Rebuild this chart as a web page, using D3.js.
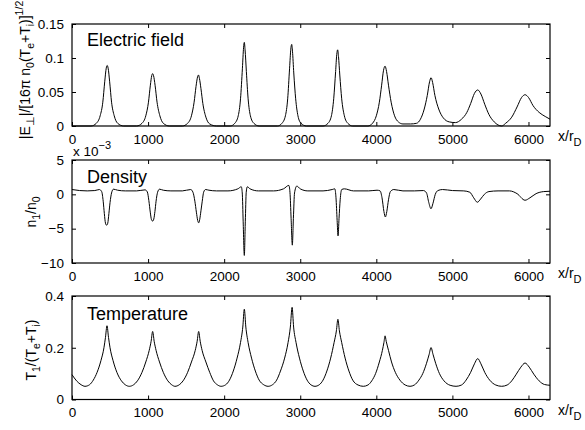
<!DOCTYPE html>
<html><head><meta charset="utf-8">
<script src="https://cdn.jsdelivr.net/npm/d3@7"></script>
<style>
body{margin:0;background:#fff;}
text{font-family:"Liberation Sans",Arial,Helvetica,sans-serif;fill:#000;}
</style></head>
<body><svg id="c" width="585" height="430"></svg>
<script>
// ---------- DATA ----------
const xTicks = [0,1000,2000,3000,4000,5000,6000];
const xMax = 6283;

// Electric field |E_perp|/[16 pi n0 (Te+Ti)]^1/2
const eX = [0,250,320,370,405,430,450,462,475,495,520,555,600,680,
 850,920,970,1005,1030,1048,1060,1072,1092,1118,1155,1200,1280,
 1450,1520,1570,1605,1630,1650,1662,1675,1695,1720,1760,1810,1900,
 2080,2140,2185,2215,2240,2255,2265,2275,2292,2315,2345,2390,2460,
 2700,2760,2805,2835,2860,2876,2888,2898,2915,2940,2970,3010,3080,
 3300,3365,3410,3440,3465,3480,3492,3503,3520,3545,3580,3625,3690,
 3890,3950,4000,4040,4070,4095,4115,4135,4160,4195,4240,4290,4350,4450,4530,
 4580,4630,4670,4700,4720,4740,4770,4820,4880,4960,5040,
 5120,5190,5240,5290,5333,5375,5425,5480,5550,5648,
 5700,5780,5850,5910,5955,6000,6060,6140,6220,6283];
const eY = [0,0,0.004,0.015,0.035,0.065,0.085,0.089,0.085,0.065,0.035,0.015,0.004,0,
 0,0.004,0.015,0.035,0.06,0.074,0.077,0.074,0.06,0.035,0.015,0.004,0,
 0,0.004,0.015,0.035,0.058,0.072,0.075,0.07,0.055,0.033,0.013,0.003,0,
 0,0.004,0.015,0.04,0.085,0.115,0.123,0.112,0.08,0.04,0.015,0.004,0,
 0,0.004,0.015,0.04,0.085,0.113,0.12,0.11,0.078,0.04,0.015,0.004,0,
 0,0.004,0.015,0.04,0.08,0.105,0.112,0.102,0.075,0.04,0.015,0.004,0,
 0,0.004,0.015,0.035,0.06,0.082,0.088,0.08,0.06,0.035,0.015,0.006,0.003,0.003,0.004,
 0.01,0.025,0.045,0.065,0.071,0.064,0.045,0.025,0.012,0.006,0.005,
 0.01,0.02,0.033,0.048,0.053,0.047,0.032,0.017,0.006,0,
 0.004,0.013,0.028,0.042,0.046,0.042,0.03,0.02,0.014,0.01];

// Density n1/n0 (x 10^-3)
const nX = [0,100,200,300,360,390,410,425,440,455,470,485,500,520,545,600,700,
 850,960,990,1010,1030,1045,1060,1075,1090,1105,1125,1150,1200,1300,
 1450,1560,1590,1615,1635,1652,1665,1678,1695,1712,1730,1755,1800,1900,
 2050,2180,2225,2238,2250,2265,2278,2290,2305,2340,2450,
 2650,2780,2850,2865,2880,2896,2910,2925,2955,3000,3100,
 3300,3420,3455,3470,3485,3497,3510,3525,3545,3580,3700,
 3900,4010,4050,4075,4100,4119,4138,4160,4185,4230,4350,
 4500,4620,4660,4690,4719,4745,4775,4810,4870,5000,
 5150,5230,5280,5328,5370,5420,5480,5600,
 5750,5850,5955,6020,6100,6200,6283];
const nY = [0.7,0.55,0.5,0.55,0.7,0.4,-1,-2.8,-4.2,-4.5,-4.2,-2.8,-1.2,0.2,0.75,0.6,0.5,
 0.5,0.65,0.35,-0.9,-2.7,-3.7,-3.9,-3.6,-2.5,-1.0,0.3,0.75,0.6,0.5,
 0.5,0.7,0.3,-1,-2.6,-3.8,-4.15,-3.7,-2.4,-1,0.3,0.7,0.6,0.5,
 0.5,0.8,1.1,0.2,-4,-8.9,-4,0.3,1.1,0.8,0.5,
 0.5,0.8,1.3,0.3,-3.5,-7.4,-3.5,0.2,1.2,0.8,0.5,
 0.5,0.7,0.8,-0.5,-3.8,-6.05,-3.5,-0.8,0.7,0.8,0.5,
 0.5,0.6,0.5,-0.5,-2.5,-3.3,-2.5,-0.8,0.4,0.7,0.5,
 0.5,0.55,0.2,-1.2,-2.1,-1.3,0,0.55,0.7,0.55,
 0.5,0.3,-0.5,-1.15,-0.7,0,0.4,0.5,
 0.5,0.1,-0.86,-0.5,0.1,0.4,0.45];

// Temperature T1/(Te+Ti)
const tX = [0,60,120,171,230,280,330,380,420,440,460,480,500,540,590,650,700,753,
 810,860,920,970,1015,1040,1060,1080,1105,1150,1200,1260,1310,1354,
 1410,1460,1520,1570,1620,1645,1665,1685,1710,1760,1810,1860,1910,1960,
 2020,2070,2120,2170,2215,2245,2265,2285,2315,2360,2410,2460,2520,2578,
 2635,2690,2740,2795,2840,2870,2893,2913,2945,2990,3040,3090,3140,3194,
 3250,3300,3350,3400,3445,3475,3495,3515,3545,3590,3640,3690,3760,3829,
 3890,3940,3990,4040,4080,4100,4115,4130,4160,4200,4250,4310,4380,4443,
 4500,4560,4610,4660,4695,4719,4745,4780,4830,4890,4970,5048,
 5120,5180,5240,5290,5333,5375,5425,5490,5570,5648,
 5720,5780,5840,5900,5955,6010,6070,6140,6210,6283];
const tY = [0.096,0.072,0.057,0.051,0.057,0.075,0.105,0.15,0.2,0.24,0.285,0.24,0.2,0.15,0.105,0.072,0.057,0.051,
 0.057,0.072,0.105,0.145,0.19,0.225,0.263,0.225,0.19,0.145,0.105,0.072,0.057,0.051,
 0.057,0.072,0.105,0.145,0.19,0.225,0.263,0.225,0.19,0.145,0.105,0.072,0.057,0.051,
 0.057,0.075,0.11,0.16,0.22,0.28,0.349,0.28,0.22,0.16,0.11,0.075,0.057,0.051,
 0.057,0.075,0.11,0.16,0.22,0.28,0.356,0.28,0.22,0.16,0.11,0.075,0.057,0.051,
 0.057,0.075,0.11,0.16,0.22,0.265,0.31,0.265,0.22,0.16,0.11,0.075,0.056,0.051,
 0.056,0.072,0.1,0.145,0.19,0.22,0.246,0.225,0.19,0.145,0.105,0.075,0.056,0.051,
 0.056,0.075,0.1,0.14,0.175,0.201,0.175,0.14,0.1,0.072,0.055,0.051,
 0.056,0.075,0.105,0.138,0.158,0.138,0.105,0.075,0.056,0.051,
 0.056,0.072,0.098,0.125,0.141,0.125,0.098,0.072,0.058,0.055];

const eTicks = [0,0.05,0.1,0.15];
const nTicks = [-10,-5,0,5];
const tTicks = [0,0.2,0.4];
const titles = ["Electric field","Density","Temperature"];

// ---------- DRAW ----------
const svg = d3.select("#c");
const L = 72, R = 550;
const x = d3.scaleLinear().domain([0,xMax]).range([L,R]);

const panels = [
  {xs:eX, ys:eY, dom:[0,0.15], top:24, bot:126, ticks:eTicks, fmt:d=>d===0?"0":String(d), title:titles[0], ty:46},
  {xs:nX, ys:nY, dom:[-10,5], top:160, bot:263, ticks:nTicks, fmt:d=>String(d).replace("-","\u2212"), title:titles[1], ty:183},
  {xs:tX, ys:tY, dom:[0,0.4], top:296, bot:399.5, ticks:tTicks, fmt:d=>d===0?"0":String(d), title:titles[2], ty:320}
];

panels.forEach((p,i)=>{
  const y = d3.scaleLinear().domain(p.dom).range([p.bot,p.top]);
  const g = svg.append("g");
  const data = p.xs.map((v,k)=>[v,p.ys[k]]);
  g.append("path").datum(data)
    .attr("fill","none").attr("stroke","#000").attr("stroke-width",1)
    .attr("d", d3.line().x(d=>x(d[0])).y(d=>y(d[1])).curve(d3.curveMonotoneX));
  const fs = "13.5px";
  const ax = g.append("g").attr("transform",`translate(0,${p.bot})`)
    .call(d3.axisBottom(x).tickValues(xTicks).tickSizeInner(-4).tickSizeOuter(0).tickPadding(8).tickFormat(d3.format("d")));
  ax.selectAll("text").style("font-size",fs);
  const axT = g.append("g").attr("transform",`translate(0,${p.top})`)
    .call(d3.axisTop(x).tickValues(xTicks).tickSizeInner(-4).tickSizeOuter(0).tickFormat(""));
  const ay = g.append("g").attr("transform",`translate(${L},0)`)
    .call(d3.axisLeft(y).tickValues(p.ticks).tickSizeInner(-4).tickSizeOuter(0).tickPadding(8).tickFormat(p.fmt));
  ay.selectAll("text").style("font-size",fs);
  const ayR = g.append("g").attr("transform",`translate(${R},0)`)
    .call(d3.axisRight(y).tickValues(p.ticks).tickSizeInner(-4).tickSizeOuter(0).tickFormat(""));
  [ax,axT,ay,ayR].forEach(a=>{a.select(".domain").remove(); a.selectAll("line").attr("stroke","#000");});
  g.append("rect").attr("x",L).attr("y",p.top).attr("width",R-L).attr("height",p.bot-p.top)
    .attr("fill","none").attr("stroke","#000").attr("stroke-width",1.2);
  g.append("text").attr("x",87).attr("y",p.ty).style("font-size","18px").text(p.title);
  const xl = g.append("text").attr("x",558).attr("y",p.bot+15).style("font-size","14px");
  xl.append("tspan").text("x/r");
  xl.append("tspan").attr("dy",5).style("font-size","11px").text("D");
});

// x 10^-3 multiplier
const m = svg.append("text").attr("x",73).attr("y",156).style("font-size","13.5px");
m.append("tspan").text("x 10");
m.append("tspan").attr("dy",-7).style("font-size","11px").text("\u22123");

// y labels
function ylabel(cx, cy, parts){
  const t = svg.append("text").attr("transform",`translate(${cx},${cy}) rotate(-90)`)
    .attr("text-anchor","middle").style("font-size","14px");
  let prev = 0;
  parts.forEach(([s,shift])=>{
    const ts = t.append("tspan").text(s).attr("dy", shift-prev);
    if(shift!==0) ts.style("font-size","10.5px");
    prev = shift;
  });
}
ylabel(30,70,[["|E",0],["\u22a5",4],["|/[16\u03c0 n",0],["0",4],["(T",0],["e",4],["+T",0],["i",4],[")]",0],["1/2",-7]]);
ylabel(36,212,[["n",0],["1",4],["/n",0],["0",4]]);
ylabel(36,350,[["T",0],["1",4],["/(T",0],["e",4],["+T",0],["i",4],[")",0]]);
</script></body></html>
